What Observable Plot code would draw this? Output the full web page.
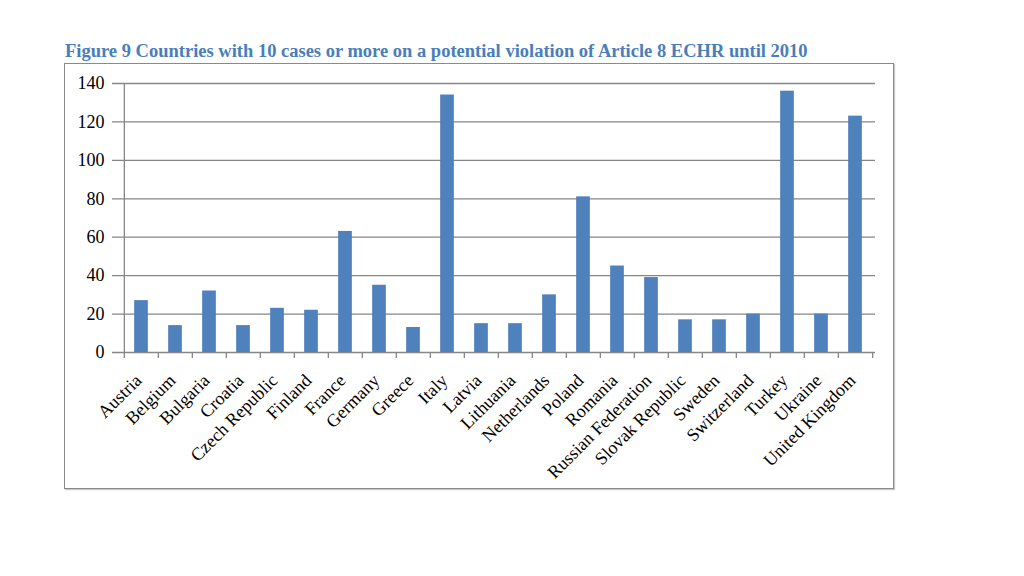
<!DOCTYPE html>
<html>
<head>
<meta charset="utf-8">
<script src="https://cdn.jsdelivr.net/npm/d3@7"></script>
<script src="https://cdn.jsdelivr.net/npm/@observablehq/plot@0.6"></script>
<style>
  html, body { margin: 0; padding: 0; background: #fff; width: 1024px; height: 576px; overflow: hidden; }
  #title { position: absolute; left: 65px; top: 41px; font-family: "Liberation Serif", "Times New Roman", serif; font-weight: bold; font-size: 18.5px; color: #4a7ebb; white-space: nowrap; }
  #box { position: absolute; left: 64px; top: 63px; width: 828px; height: 424px; border: 1.5px solid #8a8a8a; box-shadow: 1px 1px 1px #c8c8c8; }
  #chart { position: absolute; left: 0; top: 0; }
  #chart svg text { font-family: "Liberation Serif", "Times New Roman", serif !important; fill: #000; }
  #chart svg g[aria-label="y-axis tick label"] { font-size: 18px !important; }
  #chart svg g[aria-label="x-axis tick label"] { font-size: 18px !important; }
</style>
</head>
<body>
<div id="title">Figure 9 Countries with 10 cases or more on a potential violation of Article 8 ECHR until 2010</div>
<div id="box"></div>
<div id="chart"></div>
<script>
const countries = ["Austria","Belgium","Bulgaria","Croatia","Czech Republic","Finland","France","Germany","Greece","Italy","Latvia","Lithuania","Netherlands","Poland","Romania","Russian Federation","Slovak Republic","Sweden","Switzerland","Turkey","Ukraine","United Kingdom"];
const cases = [27,14,32,14,23,22,63,35,13,134,15,15,30,81,45,39,17,17,20,136,20,123];
const yTicks = [0,20,40,60,80,100,120,140];

const data = countries.map((c, i) => ({country: c, value: cases[i]}));

const W = 1024, H = 576;
const mL = 120, mR = 149, mT = 83, mB = 224;
const step = (W - mL - mR) / countries.length;
const barW = 14;
const inset = (step - barW) / 2;
const grey = "#868686";
const font = "'Liberation Serif', 'Times New Roman', serif";

const chart = Plot.plot({
  width: W,
  height: H,
  marginLeft: mL,
  marginRight: mR,
  marginTop: mT,
  marginBottom: mB,
  style: { fontFamily: font, fontSize: "17px", color: "#000", background: "transparent" },
  x: { domain: countries, padding: 0, label: null },
  y: { domain: [0, 140], label: null },
  marks: [
    Plot.ruleY(yTicks, { y: d => d, stroke: grey, strokeWidth: 1.3, insetLeft: -8 }),
    Plot.barY(data, { x: "country", y: "value", fill: "#4f81bd", insetLeft: inset, insetRight: inset }),
    Plot.ruleX(countries, { x: d => d, y1: 0, y2: 0, dx: -step / 2, insetBottom: -6, stroke: grey, strokeWidth: 1.3 }),
    Plot.ruleX(countries.slice(-1), { x: d => d, y1: 0, y2: 0, dx: step / 2, insetBottom: -6, stroke: grey, strokeWidth: 1.3 }),
    Plot.ruleX(countries.slice(0, 1), { x: d => d, y1: 0, y2: 140, dx: -step / 2, stroke: grey, strokeWidth: 1.3 }),
    Plot.axisY({ ticks: yTicks, tickSize: 0, tickPadding: 16, fontSize: 18, fill: "#000", label: null }),
    Plot.axisX({ tickSize: 0, tickRotate: -45, tickPadding: 20, dx: -3, dy: 5, fontSize: 18, fill: "#000", label: null })
  ]
});
document.getElementById("chart").appendChild(chart);
</script>
</body>
</html>
